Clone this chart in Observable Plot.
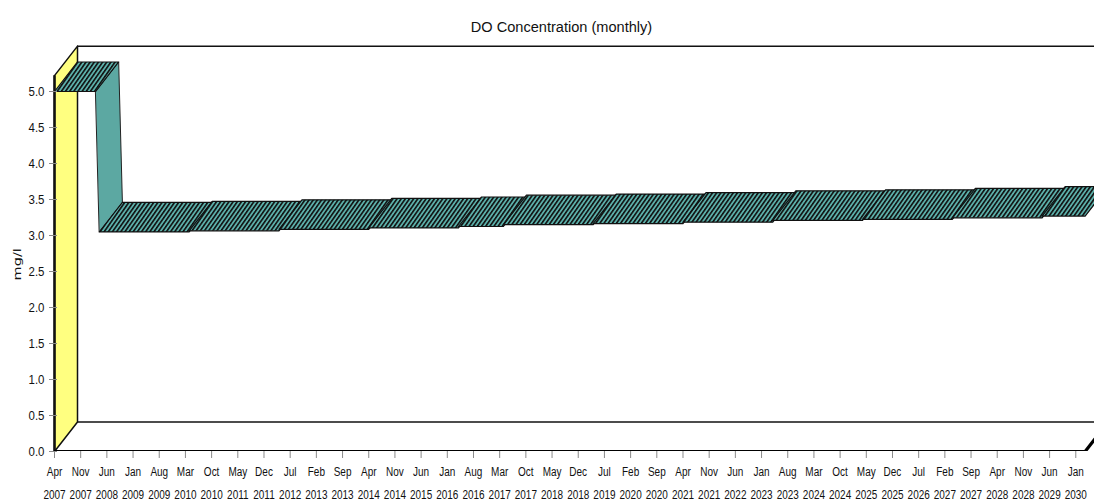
<!DOCTYPE html>
<html>
<head>
<meta charset="utf-8">
<script src="https://cdn.jsdelivr.net/npm/d3@7"></script>
<script src="https://cdn.jsdelivr.net/npm/@observablehq/plot@0.6"></script>
<style>
html,body{margin:0;padding:0;background:#fff;overflow:hidden}
#title{height:40px;box-sizing:border-box;padding-top:17px;padding-left:28px;text-align:center;font:15.5px/20px "Liberation Sans",sans-serif;color:#111}
#title span{display:inline-block;transform:scaleX(0.94)}
svg{display:block}
</style>
</head>
<body>
<div id="title"><span>DO Concentration (monthly)</span></div>
<div id="chart"></div>
<script>
const tickMonths = ["Apr","Nov","Jun","Jan","Aug","Mar","Oct","May","Dec","Jul","Feb","Sep","Apr","Nov","Jun","Jan","Aug","Mar","Oct","May","Dec","Jul","Feb","Sep","Apr","Nov","Jun","Jan","Aug","Mar","Oct","May","Dec","Jul","Feb","Sep","Apr","Nov","Jun","Jan"];
const tickYears = [2007,2007,2008,2009,2009,2010,2010,2011,2011,2012,2013,2013,2014,2014,2015,2016,2016,2017,2017,2018,2018,2019,2020,2020,2021,2021,2022,2023,2023,2024,2024,2025,2025,2026,2027,2027,2028,2028,2029,2030];
// months since Apr 2007
const segStart = [0,12,36,60,84,108,120,144,168,192,216,240,264];
const segEnd   = [11,36,60,84,108,120,144,168,192,216,240,264,275.5];
const segValue = [5.0,3.05,3.065,3.085,3.105,3.125,3.15,3.165,3.185,3.21,3.225,3.245,3.27];
const yTicks = [0,0.5,1,1.5,2,2.5,3,3.5,4,4.5,5];
const xTicks = tickMonths.map((_, i) => i * 7);
const depthX = 6.15, depthY = 0.41, yTop = 5.22, xMax = 278;

const ink = "#111", grey = "#8a8a8a";
const poly = (pts, key) => pts.map(([x, y]) => ({x, y, key}));

const ribbon = segStart.flatMap((s, i) => poly([
  [s, segValue[i]], [segEnd[i], segValue[i]],
  [segEnd[i] + depthX, segValue[i] + depthY], [s + depthX, segValue[i] + depthY]
], i));
const drop = poly([
  [segEnd[0], segValue[0]], [segEnd[0] + depthX, segValue[0] + depthY],
  [segStart[1] + depthX, segValue[1] + depthY], [segStart[1], segValue[1]]
], "drop");
const sideWall = poly([[0, 0], [0, yTop], [depthX, yTop + depthY], [depthX, depthY]], "wall");
const floorFront = [{x: 0, y: 0}, {x: segEnd[12], y: 0}, {x: segEnd[12] + depthX, y: depthY}];

const defs = () => {
  const s = d3.create("svg:g");
  const p = s.append("defs").append("pattern")
    .attr("id", "hatch").attr("patternUnits", "userSpaceOnUse")
    .attr("width", 3.4).attr("height", 3.4).attr("patternTransform", "rotate(35)");
  p.append("rect").attr("width", 3.4).attr("height", 3.4).attr("fill", "#5cb0aa");
  p.append("rect").attr("width", 1.6).attr("height", 3.4).attr("fill", "#101010");
  return s.node();
};

const plot = Plot.plot({
  width: 1094, height: 462,
  marginLeft: 54, marginRight: 0, marginTop: 6, marginBottom: 51,
  style: {background: "#fff", overflow: "hidden"},
  x: {domain: [0, xMax], axis: null},
  y: {domain: [0, 5.625], axis: null},
  marks: [
    defs,
    Plot.ruleY([yTop + depthY], {x1: depthX, x2: xMax, stroke: ink, strokeWidth: 1.5}),
    Plot.ruleY([depthY], {x1: depthX, x2: xMax, stroke: ink, strokeWidth: 1.5}),
    Plot.line(sideWall, {x: "x", y: "y", z: "key", curve: "linear-closed", fill: "#ffff80", stroke: ink, strokeWidth: 1.5}),
    Plot.ruleX([0], {y1: 0, y2: yTop, stroke: ink, strokeWidth: 2.5}),
    Plot.line(drop, {x: "x", y: "y", z: "key", curve: "linear-closed", fill: "#5ca8a2", stroke: "#222", strokeWidth: 1}),
    Plot.line(ribbon, {x: "x", y: "y", z: "key", curve: "linear-closed", fill: "url(#hatch)", stroke: "#111", strokeWidth: 1.2, clip: "frame"}),
    Plot.line(floorFront, {x: "x", y: "y", stroke: "#000", strokeWidth: 3.2, clip: "frame"}),
    Plot.axisY({ticks: yTicks, tickFormat: d3.format(".1f"), tickSize: 5, tickPadding: 5, stroke: grey,
      color: "#111", fontSize: 13.5, fontFamily: "Liberation Sans", label: null, className: "ytick"}),
    Plot.ruleY(yTicks, {x1: 0, x2: 0.8, stroke: grey}),
    Plot.axisX({ticks: xTicks, tickSize: 7, tickPadding: 1, stroke: grey, color: "#111", label: null,
      fontSize: 13.5, fontFamily: "Liberation Sans", lineHeight: 1.7, className: "xtick",
      tickFormat: d => tickMonths[d / 7] + "\n" + tickYears[d / 7]}),
    Plot.text(["mg/l"], {y: [2.6], frameAnchor: "left", dx: -37, rotate: -90, fontSize: 10, textAnchor: "middle",
      fontFamily: "DejaVu Sans", fill: "#111", className: "ylab"})
  ]
});
document.getElementById("chart").append(plot);
// Condensed lettering: no condensed face is installed, so narrow the real text.
const squeeze = (t, k) => {
  const base = t.getAttribute("transform") || "";
  t.setAttribute("transform", `${base} scale(${k},1)`);
};
plot.querySelectorAll(".xtick text").forEach(t => squeeze(t, 0.74));
plot.querySelectorAll(".ytick text").forEach(t => squeeze(t, 0.85));
plot.querySelectorAll(".ylab text").forEach(t => {
  t.setAttribute("transform", `${t.getAttribute("transform") || ""} scale(1.45,1)`);
});
</script>
</body>
</html>
